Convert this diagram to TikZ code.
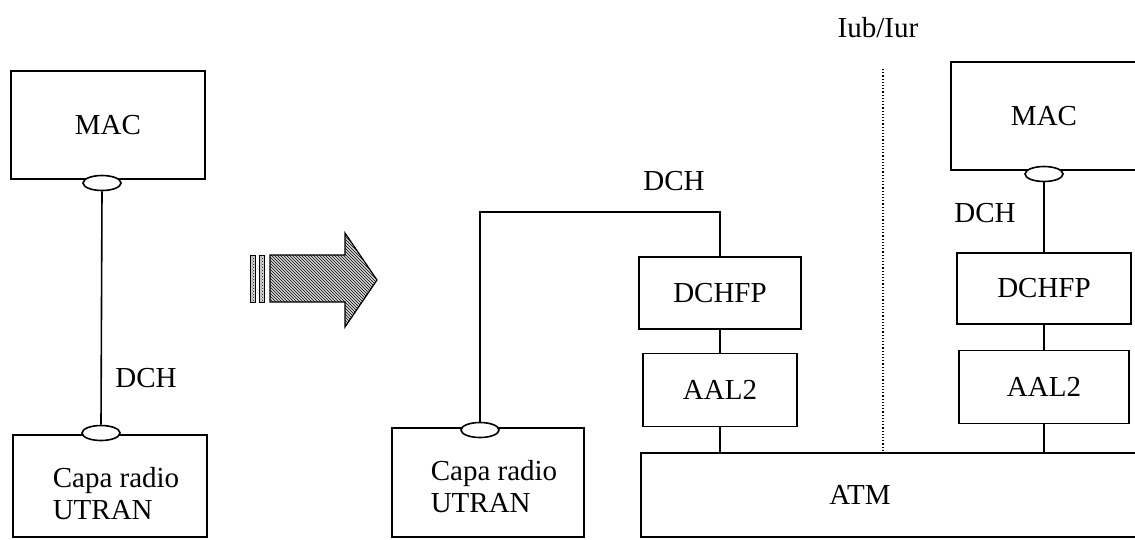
\documentclass[tikz,border=0pt]{standalone}
\usepackage{fontspec}
\setmainfont{Liberation Serif}
\usepackage{tikz}
\usetikzlibrary{calc, positioning, shapes.geometric, patterns}
\tikzset{
  layer/.style={draw,line width=1.6pt,inner sep=0pt,font=\fontsize{29}{32}\selectfont},
  sap/.style={ellipse,draw,fill=white,line width=1.6pt,inner sep=0pt,minimum width=38pt,minimum height=15pt},
  link/.style={line width=1.6pt},
  tag/.style={font=\fontsize{29}{32}\selectfont,inner sep=0pt}
}

\begin{document}
\begin{tikzpicture}[x=1pt,y=-1pt]
  \clip (0,0) rectangle (1135,539);
  % left: before
  \node[layer, minimum width=194pt, minimum height=108pt] (macL) at (108,125) {MAC};
  \node[layer, minimum width=194pt, minimum height=102pt] (capaL) at (110,486) {};
  \node[tag, align=left] (capaLtxt) at (116,494) {Capa radio\\UTRAN};
  \node[sap] (eMacL) at (102,183) {};
  \node[sap] (eCapaL) at (101,433) {};
  \draw[link] (eMacL.south) -- (eCapaL.north);
  \node[tag] (dchL) at (146,378) {DCH};

  % transition arrow
  \draw[line width=1.2pt, fill=gray!30, postaction={pattern=north west lines}]
    (270,255) -- (345,255) -- (345,233) -- (377,280)
    -- (345,327) -- (345,302) -- (270,302) -- cycle;
  \draw[line width=1pt, fill=gray!30, postaction={pattern=crosshatch dots}] (250,255) rectangle (255,302);
  \draw[line width=1pt, fill=gray!30, postaction={pattern=crosshatch dots}] (259,255) rectangle (264,302);

  % right: after
  \node[layer, minimum width=192pt, minimum height=109pt] (capaM) at (488,482.5) {};
  \node[tag, align=left] (capaMtxt) at (494,487) {Capa radio\\UTRAN};
  \node[sap] (eCapaM) at (480,430) {};
  \node[layer, minimum width=162pt, minimum height=72pt] (fpA) at (720,293) {DCHFP};
  \node[layer, minimum width=154pt, minimum height=73pt, below=23pt of fpA] (aalA) {AAL2};
  \node[layer, minimum width=504pt, minimum height=84pt,
        label={[tag, xshift=-33pt]center:ATM}] (atm) at (893,495) {};
  \coordinate (bend) at (720,212);
  \draw[link] (eCapaM.north) |- (bend) -- (fpA.north);
  \draw[link] (fpA.south) -- (aalA.north);
  \draw[link] (aalA.south) -- (aalA.south |- atm.north);
  \node[tag] (dchM) at (674,181) {DCH};

  \node[layer, minimum width=186pt, minimum height=108pt] (macR) at (1044,116) {MAC};
  \node[sap] (eMacR) at (1044,174) {};
  \node[layer, minimum width=174pt, minimum height=71pt] (fpB) at (1044,288.5) {DCHFP};
  \node[layer, minimum width=170pt, minimum height=73pt, below=25pt of fpB] (aalB) {AAL2};
  \draw[link] (eMacR.south) -- (fpB.north);
  \draw[link] (fpB.south) -- (aalB.north);
  \draw[link] (aalB.south) -- (aalB.south |- atm.north);
  \node[tag] (dchR) at (985,213) {DCH};

  % interface
  \node[tag] (iub) at (878,28) {Iub/Iur};
  \coordinate (iubTop) at (883,69);
  \draw[line width=1.2pt, dotted] (iubTop) -- (iubTop |- atm.north);
\end{tikzpicture}
\end{document}
